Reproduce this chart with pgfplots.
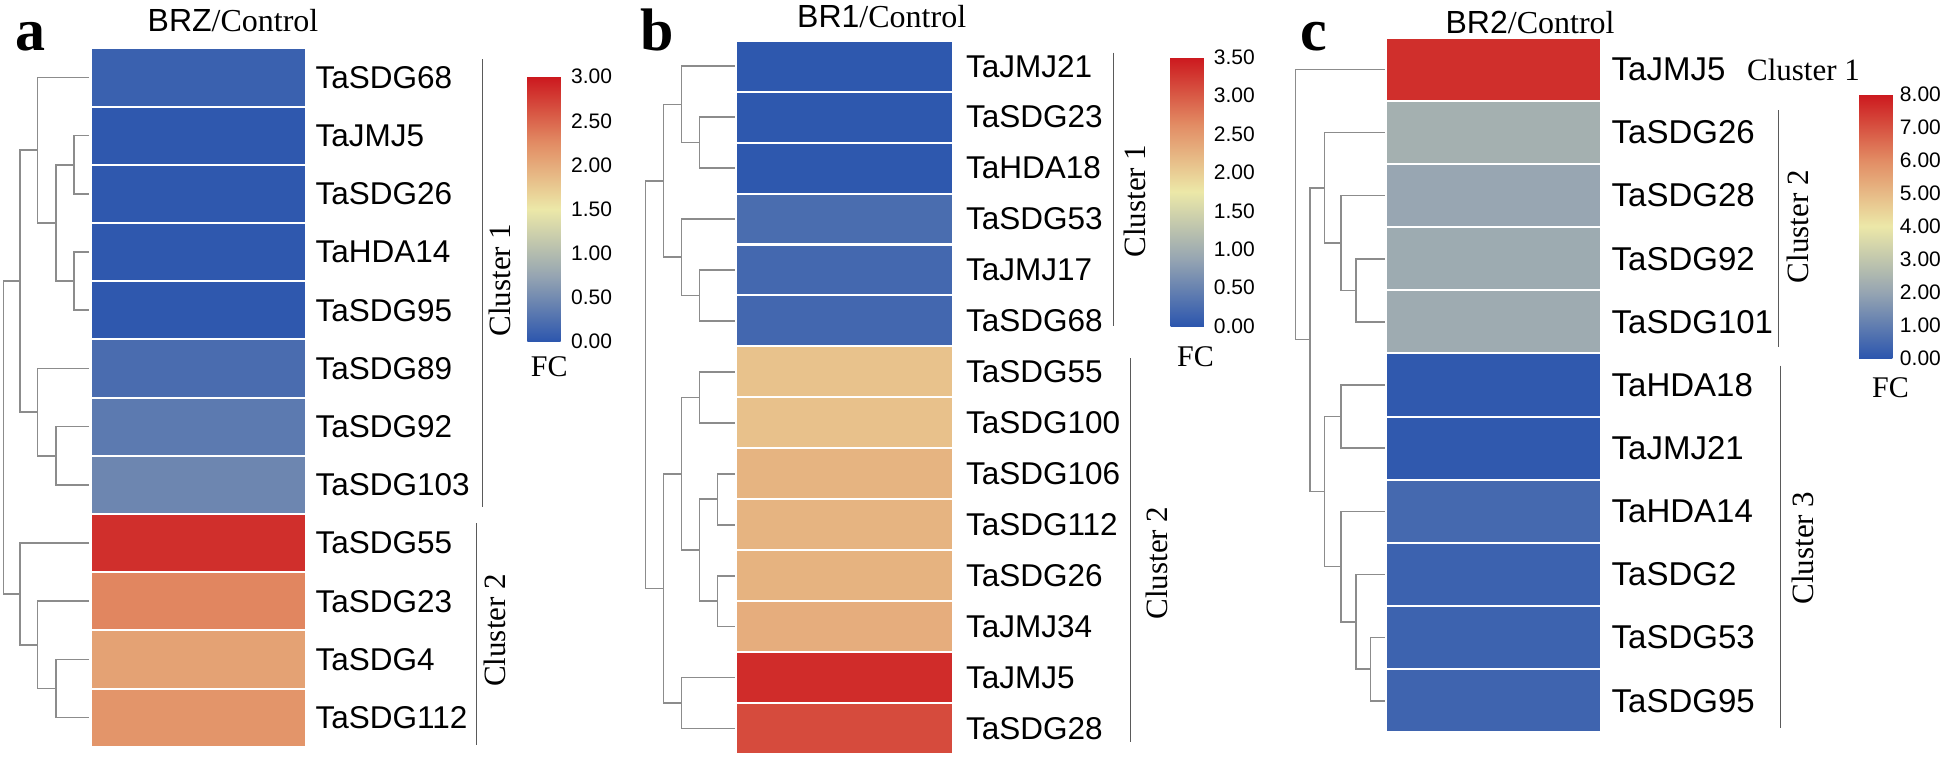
\documentclass[border=0pt]{standalone}
\usepackage{fontspec}
\setmainfont{Liberation Serif}
\newfontfamily\arial{Liberation Sans}
\usepackage{pgfplots}
\pgfplotsset{compat=1.18}
\usepackage{pgfplotstable}
\usetikzlibrary{calc}

% 1 px of the reference = 0.4pt
\definecolor{dendro}{RGB}{140,140,140}
\definecolor{clus}{RGB}{90,90,90}

% heatmap cells (width x height of one row)
\pgfdeclareplotmark{cellA}{\pgfpathrectangle{\pgfpoint{-42.88pt}{-11.64pt}}{\pgfpoint{85.76pt}{23.28pt}}\pgfusepathqfillstroke}
\pgfdeclareplotmark{cellB}{\pgfpathrectangle{\pgfpoint{-43.36pt}{-10.19pt}}{\pgfpoint{86.72pt}{20.38pt}}\pgfusepathqfillstroke}
\pgfdeclareplotmark{cellC}{\pgfpathrectangle{\pgfpoint{-42.96pt}{-12.63pt}}{\pgfpoint{85.92pt}{25.26pt}}\pgfusepathqfillstroke}

\newcommand{\genefont}{\fontsize{12.6}{12.6}\selectfont\arial}
\newcommand{\tickfont}{\fontsize{8.4}{8.4}\selectfont\arial}
\newcommand{\clfont}{\fontsize{12.4}{12.4}\selectfont}

\pgfplotsset{
  colormap={fcmap}{rgb255=(44,86,174) rgb255=(150,165,178) rgb255=(236,232,168) rgb255=(226,140,100) rgb255=(204,24,30)},
  panel/.style={at={(0,0)}, anchor=north west, scale only axis,
    width=777.6pt, height=302.8pt, xmin=0, xmax=1944, ymin=0, ymax=757,
    y dir=reverse, clip=false, axis line style={draw=none},
    xtick=\empty, ytick=\empty, colormap name=fcmap, colorbar,
    colorbar shift/.style={}},
  cb/.style n args={6}{colorbar style={
    at={($(parent axis.north west)+(#1,#2)$)}, anchor=north west,
    scale only axis, width=13.3pt, height=#3,
    xmin=0, xmax=1, ymin=0, ymax=#5, x dir=normal, y dir=normal,
    axis line style={draw=none}, major tick length=0pt,
    xtick=\empty, ytick={#4}, yticklabel pos=right,
    yticklabel style={font=\tickfont, inner sep=0pt, xshift=#6},
    /pgf/number format/fixed, /pgf/number format/fixed zerofill,
    /pgf/number format/precision=2, /pgf/number format/assume math mode=true}},
  heat/.style={scatter, only marks, mark=#1, point meta=explicit, line width=0.8pt,
    scatter/use mapped color={draw=white, fill=mapped color}},
  genes/.style={draw=none, mark=none, point meta=explicit symbolic,
    nodes near coords={\pgfplotspointmeta},
    nodes near coords style={anchor=west, inner sep=0pt, font=#1}},
  dend/.style={color=dendro, line width=0.64pt, unbounded coords=jump},
  cline/.style={color=clus, line width=0.4pt},
}

\pgfplotstableread{
y v name
77.4 0.10 TaSDG68
135.6 0.02 TaJMJ5
193.8 0.02 TaSDG26
252.0 0.02 TaHDA14
310.2 0.02 TaSDG95
368.4 0.21 TaSDG89
426.6 0.34 TaSDG92
484.8 0.46 TaSDG103
543.0 2.85 TaSDG55
601.2 2.29 TaSDG23
659.4 2.07 TaSDG4
717.6 2.18 TaSDG112
}\tabA

\pgfplotstableread{
y v name
66.2 0.02 TaJMJ21
117.1 0.02 TaSDG23
168.1 0.02 TaHDA18
219.0 0.25 TaSDG53
270.0 0.20 TaJMJ17
320.9 0.19 TaSDG68
371.9 2.11 TaSDG55
422.8 2.12 TaSDG100
473.8 2.25 TaSDG106
524.7 2.25 TaSDG112
575.7 2.26 TaSDG26
626.6 2.31 TaJMJ34
677.6 3.35 TaJMJ5
728.5 3.12 TaSDG28
}\tabB

\pgfplotstableread{
y v name
69.3 7.60 TaJMJ5
132.4 2.33 TaSDG26
195.6 2.04 TaSDG28
258.7 2.17 TaSDG92
321.9 2.18 TaSDG101
385.0 0.08 TaHDA18
448.2 0.08 TaJMJ21
511.3 0.48 TaHDA14
574.5 0.30 TaSDG2
637.6 0.33 TaSDG53
700.8 0.35 TaSDG95
}\tabC

\begin{document}
\begin{tikzpicture}

% ---------------- panel a ----------------
\begin{axis}[panel, point meta min=0, point meta max=3,
  cb={210.96pt}{-30.68pt}{106pt}{0,0.5,...,3}{3}{4pt}]
\addplot[heat=cellA] table[x expr=198.4, y=y, meta=v] {\tabA};
\addplot[genes=\genefont] table[x expr=315.1, y=y, meta=name] {\tabA};
\addplot[dend] coordinates {
 (89.1,135.6) (73.8,135.6) (73.8,193.8) (89.1,193.8) (nan,nan)
 (89.1,252.0) (73.8,252.0) (73.8,310.2) (89.1,310.2) (nan,nan)
 (73.8,164.7) (56,164.7) (56,281.1) (73.8,281.1) (nan,nan)
 (89.1,77.4) (37.3,77.4) (37.3,222.9) (56,222.9) (nan,nan)
 (89.1,426.6) (56,426.6) (56,484.8) (89.1,484.8) (nan,nan)
 (89.1,368.4) (37.3,368.4) (37.3,455.7) (56,455.7) (nan,nan)
 (37.3,150.15) (19.9,150.15) (19.9,412.05) (37.3,412.05) (nan,nan)
 (89.1,659.4) (56,659.4) (56,717.6) (89.1,717.6) (nan,nan)
 (89.1,601.2) (37.3,601.2) (37.3,688.5) (56,688.5) (nan,nan)
 (89.1,543.0) (19.9,543.0) (19.9,644.85) (37.3,644.85) (nan,nan)
 (19.9,281.1) (3.3,281.1) (3.3,593.9) (19.9,593.9)
};
\addplot[cline] coordinates {(482.2,59) (482.2,506.7)};
\addplot[cline] coordinates {(476,523.3) (476,745)};
\node[anchor=base west, inner sep=0pt, font=\fontsize{24}{24}\selectfont\bfseries] at (axis cs:14.5,50) {a};
\node[anchor=base west, inner sep=0pt, font=\fontsize{12.8}{12.8}\selectfont] at (axis cs:147.2,31.7) {{\arial BRZ}/Control};
\node[rotate=90, inner sep=0pt, font=\clfont] at (axis cs:499.6,280) {Cluster 1};
\node[rotate=90, inner sep=0pt, font=\clfont] at (axis cs:495,630.4) {Cluster 2};
\node[inner sep=0pt, font=\fontsize{12}{12}\selectfont] at (axis cs:549.3,367) {FC};
\end{axis}

% ---------------- panel b ----------------
\begin{axis}[panel, point meta min=0, point meta max=3.5,
  cb={468.28pt}{-22.92pt}{107.48pt}{0,0.5,...,3.5}{3.5}{3.8pt}]
\addplot[heat=cellB] table[x expr=844.6, y=y, meta=v] {\tabB};
\addplot[genes=\genefont] table[x expr=965.5, y=y, meta=name] {\tabB};
\addplot[dend] coordinates {
 (734.5,117.1) (699.3,117.1) (699.3,168.1) (734.5,168.1) (nan,nan)
 (734.5,66.2) (681.5,66.2) (681.5,142.6) (699.3,142.6) (nan,nan)
 (734.5,270.0) (699.3,270.0) (699.3,320.9) (734.5,320.9) (nan,nan)
 (734.5,219.0) (681.5,219.0) (681.5,295.45) (699.3,295.45) (nan,nan)
 (681.5,104.4) (663.6,104.4) (663.6,257.2) (681.5,257.2) (nan,nan)
 (734.5,371.9) (699.3,371.9) (699.3,422.8) (734.5,422.8) (nan,nan)
 (734.5,473.8) (717.5,473.8) (717.5,524.7) (734.5,524.7) (nan,nan)
 (734.5,575.7) (717.5,575.7) (717.5,626.6) (734.5,626.6) (nan,nan)
 (717.5,499.25) (699.3,499.25) (699.3,601.15) (717.5,601.15) (nan,nan)
 (699.3,397.35) (681.5,397.35) (681.5,550.2) (699.3,550.2) (nan,nan)
 (734.5,677.6) (681.5,677.6) (681.5,728.5) (734.5,728.5) (nan,nan)
 (681.5,473.8) (663.6,473.8) (663.6,703.05) (681.5,703.05) (nan,nan)
 (663.6,180.8) (645.4,180.8) (645.4,588.4) (663.6,588.4)
};
\addplot[cline] coordinates {(1113.9,52.7) (1113.9,326)};
\addplot[cline] coordinates {(1130.5,358.3) (1130.5,741.7)};
\node[anchor=base west, inner sep=0pt, font=\fontsize{24}{24}\selectfont\bfseries] at (axis cs:640,50) {b};
\node[anchor=base west, inner sep=0pt, font=\fontsize{12.8}{12.8}\selectfont] at (axis cs:796.7,27.3) {{\arial BR1}/Control};
\node[rotate=90, inner sep=0pt, font=\clfont] at (axis cs:1134.4,201) {Cluster 1};
\node[rotate=90, inner sep=0pt, font=\clfont] at (axis cs:1156.8,563) {Cluster 2};
\node[inner sep=0pt, font=\fontsize{12}{12}\selectfont] at (axis cs:1195.5,356.7) {FC};
\end{axis}

% ---------------- panel c ----------------
\begin{axis}[panel, point meta min=0, point meta max=8,
  cb={743.68pt}{-37.72pt}{105.6pt}{0,1,...,8}{8}{2.8pt}]
\addplot[heat=cellC] table[x expr=1493.3, y=y, meta=v] {\tabC};
\addplot[genes=\fontsize{13.2}{13.2}\selectfont\arial] table[x expr=1611.1, y=y, meta=name] {\tabC};
\addplot[dend] coordinates {
 (1385.1,258.7) (1355.9,258.7) (1355.9,321.9) (1385.1,321.9) (nan,nan)
 (1385.1,195.6) (1340.9,195.6) (1340.9,290.3) (1355.9,290.3) (nan,nan)
 (1385.1,132.4) (1324.6,132.4) (1324.6,242.95) (1340.9,242.95) (nan,nan)
 (1385.1,385.0) (1340.9,385.0) (1340.9,448.2) (1385.1,448.2) (nan,nan)
 (1385.1,637.6) (1370.5,637.6) (1370.5,700.8) (1385.1,700.8) (nan,nan)
 (1385.1,574.5) (1355.9,574.5) (1355.9,669.2) (1370.5,669.2) (nan,nan)
 (1385.1,511.3) (1340.9,511.3) (1340.9,621.85) (1355.9,621.85) (nan,nan)
 (1340.9,416.6) (1324.6,416.6) (1324.6,566.6) (1340.9,566.6) (nan,nan)
 (1324.6,187.7) (1310,187.7) (1310,491.6) (1324.6,491.6) (nan,nan)
 (1385.1,69.3) (1295.4,69.3) (1295.4,339.65) (1310,339.65)
};
\addplot[cline] coordinates {(1778.7,110) (1778.7,346.7)};
\addplot[cline] coordinates {(1780.8,365.7) (1780.8,727.7)};
\node[anchor=base west, inner sep=0pt, font=\fontsize{24}{24}\selectfont\bfseries] at (axis cs:1300.4,50) {c};
\node[anchor=base west, inner sep=0pt, font=\fontsize{12.8}{12.8}\selectfont] at (axis cs:1445.1,33.3) {{\arial BR2}/Control};
\node[anchor=base west, inner sep=0pt, font=\clfont] at (axis cs:1746.6,80) {Cluster 1};
\node[rotate=90, inner sep=0pt, font=\clfont] at (axis cs:1797.7,226.7) {Cluster 2};
\node[rotate=90, inner sep=0pt, font=\clfont] at (axis cs:1803,548) {Cluster 3};
\node[inner sep=0pt, font=\fontsize{12}{12}\selectfont] at (axis cs:1890.5,388) {FC};
\end{axis}

\pgfresetboundingbox
\path[use as bounding box] (0,0) rectangle (777.6pt,-302.8pt);
\end{tikzpicture}
\end{document}
